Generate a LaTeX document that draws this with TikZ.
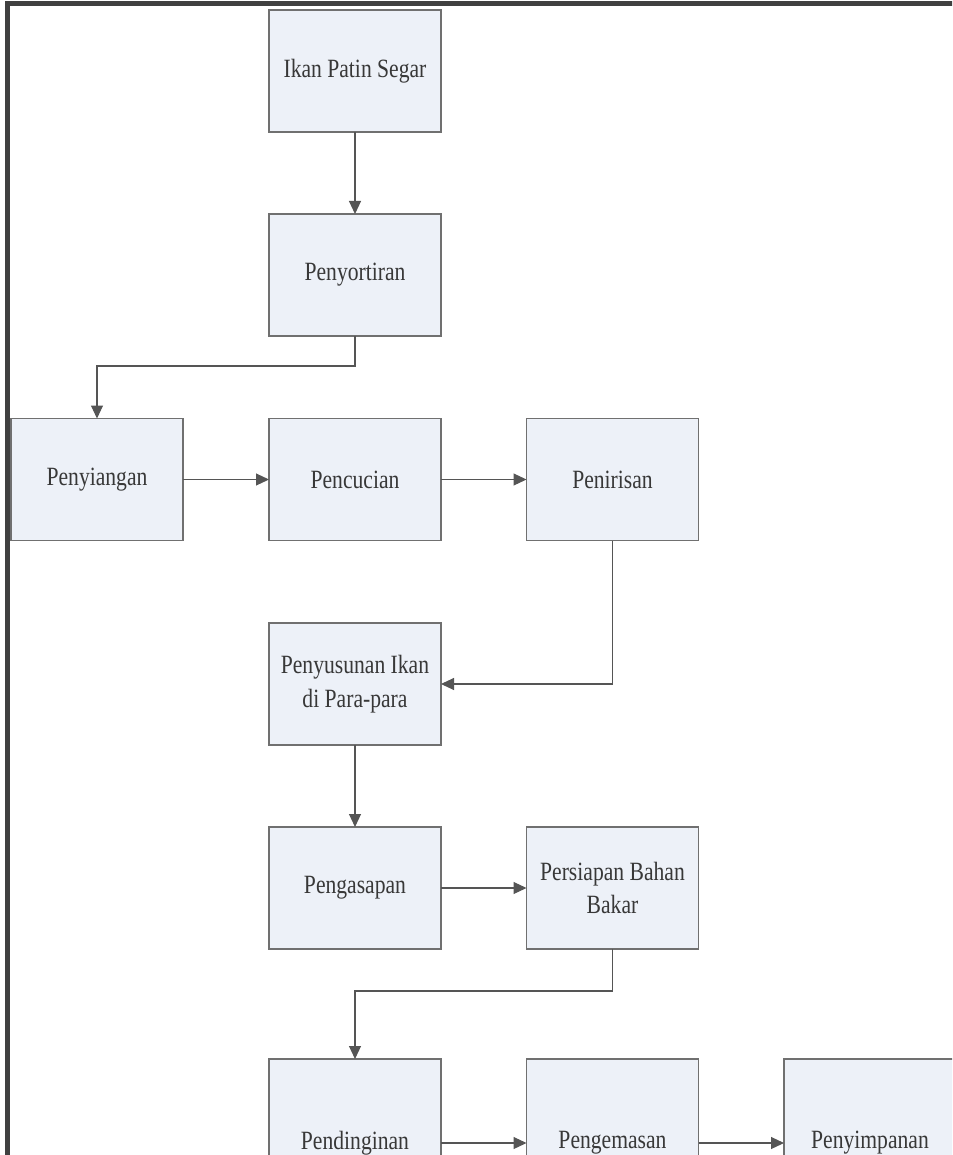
\documentclass[tikz,border=0pt]{standalone}
\usepackage{fontspec}
\setmainfont{Liberation Serif}
\newfontfamily\stagefont[FakeStretch=0.82]{Liberation Serif}
\usetikzlibrary{arrows.meta}
\definecolor{stagefill}{RGB}{237,241,248}
\definecolor{stageline}{RGB}{112,112,112}
\definecolor{flowline}{RGB}{85,85,85}
\definecolor{framegray}{RGB}{64,64,64}
\begin{document}
\begin{tikzpicture}[
  stage/.style={draw=stageline,fill=stagefill,line width=0.6pt,minimum width=3.44cm,minimum height=2.44cm,inner sep=0pt,outer sep=0pt,align=center,font=\stagefont\fontsize{15}{19}\selectfont,text=black!78},
  tallstage/.style={stage,minimum height=3.36cm},
  flow/.style={-{Triangle[length=0.26cm,width=0.24cm]},draw=flowline,line width=0.6pt}]
  \clip (0,0) rectangle (19.04,-23.1);
  % page frame
  \draw[framegray,line width=2.6pt] (19.1,-0.07) -- (0.15,-0.07) -- (0.15,-23.2);
  % first column
  \node[stage] (ikan) at (7.10,-1.42) {Ikan Patin Segar};
  \node[stage] (sortir) at (7.10,-5.50) {Penyortiran};
  % washing row
  \node[stage] (siang) at (1.94,-9.59) {Penyiangan};
  \node[stage] (cuci) at (7.10,-9.59) {Pencucian};
  \node[stage] (tiris) at (12.25,-9.59) {Penirisan};
  % smoking
  \node[stage] (susun) at (7.10,-13.68) {Penyusunan Ikan\\di Para-para};
  \node[stage] (asap) at (7.10,-17.76) {Pengasapan};
  \node[stage] (bakar) at (12.25,-17.76) {Persiapan Bahan\\Bakar};
  % last row
  \node[tallstage] (dingin) at (7.10,-22.86) {Pendinginan};
  \node[tallstage] (kemas) at (12.25,-22.86) {Pengemasan};
  \node[tallstage] (simpan) at (17.40,-22.86) {Penyimpanan};
  \draw[flow] (ikan) -- (sortir);
  \draw[flow] (sortir.south) -- ++(0,-0.6) -| (siang.north);
  \draw[flow] (siang) -- (cuci); \draw[flow] (cuci) -- (tiris);
  \draw[flow] (tiris.south) |- (susun.east);
  \draw[flow] (susun) -- (asap);
  \draw[flow] (asap) -- (bakar);
  \draw[flow] (bakar.south) -- ++(0,-0.84) -| (dingin.north);
  \draw[flow] (dingin) -- (kemas); \draw[flow] (kemas) -- (simpan);
\end{tikzpicture}
\end{document}
